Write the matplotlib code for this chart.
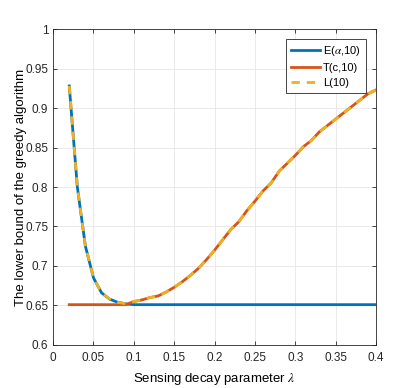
import numpy as np
import matplotlib
matplotlib.use('Agg')
import matplotlib.pyplot as plt

plt.rcParams['font.family'] = ['Liberation Sans', 'DejaVu Sans']
plt.rcParams['mathtext.fontset'] = 'stix'

# sensing decay parameter
lam = [0.02, 0.03, 0.04, 0.05, 0.06, 0.07, 0.08, 0.09, 0.10, 0.11,
       0.12, 0.13, 0.14, 0.15, 0.16, 0.17, 0.18, 0.19, 0.20, 0.21,
       0.22, 0.23, 0.24, 0.25, 0.26, 0.27, 0.28, 0.29, 0.30, 0.31,
       0.32, 0.33, 0.34, 0.35, 0.36, 0.37, 0.38, 0.39, 0.40]

# E(alpha,10)
e_vals = [0.928, 0.800, 0.725, 0.685, 0.666, 0.658, 0.654, 0.652, 0.651, 0.651,
          0.651, 0.651, 0.651, 0.651, 0.651, 0.651, 0.651, 0.651, 0.651, 0.651,
          0.651, 0.651, 0.651, 0.651, 0.651, 0.651, 0.651, 0.651, 0.651, 0.651,
          0.651, 0.651, 0.651, 0.651, 0.651, 0.651, 0.651, 0.651, 0.651]

# T(c,10)
t_vals = [0.651, 0.651, 0.651, 0.651, 0.651, 0.651, 0.651, 0.651, 0.655, 0.657,
          0.660, 0.662, 0.667, 0.673, 0.680, 0.688, 0.697, 0.708, 0.720, 0.733,
          0.746, 0.756, 0.770, 0.782, 0.795, 0.805, 0.820, 0.830, 0.840, 0.851,
          0.859, 0.870, 0.878, 0.886, 0.894, 0.902, 0.910, 0.918, 0.923]

# L(10)
l_vals = [0.928, 0.800, 0.725, 0.685, 0.666, 0.658, 0.654, 0.652, 0.655, 0.657,
          0.660, 0.662, 0.667, 0.673, 0.680, 0.688, 0.697, 0.708, 0.720, 0.733,
          0.746, 0.756, 0.770, 0.782, 0.795, 0.805, 0.820, 0.830, 0.840, 0.851,
          0.859, 0.870, 0.878, 0.886, 0.894, 0.902, 0.910, 0.918, 0.923]

fig = plt.figure(figsize=(4.15, 3.88), dpi=100)
ax = fig.add_axes([0.128, 0.111, 0.778, 0.814])

ax.plot(lam, e_vals, color='#0072BD', lw=2.0, label=r'E($\alpha$,10)')
ax.plot(lam, t_vals, color='#D95319', lw=2.0, label='T(c,10)')
ax.plot(lam, l_vals, color='#EDB120', lw=2.0, ls=(0, (3, 2.5)), label='L(10)')

ax.set_xlim(0, 0.4)
ax.set_ylim(0.6, 1.0)
ax.set_xticks(np.arange(0, 0.401, 0.05))
ax.set_xticklabels(['0', '0.05', '0.1', '0.15', '0.2', '0.25', '0.3', '0.35', '0.4'])
ax.set_yticks(np.arange(0.6, 1.001, 0.05))
ax.set_yticklabels(['0.6', '0.65', '0.7', '0.75', '0.8', '0.85', '0.9', '0.95', '1'])
ax.tick_params(direction='in', top=True, right=True, labelsize=8.5, length=3,
               colors='#262626', width=0.6)
ax.tick_params(axis='x', pad=5)
ax.grid(True, color='#e6e6e6', lw=0.6)
ax.set_axisbelow(True)
for s in ax.spines.values():
    s.set_color('#262626')
    s.set_linewidth(0.6)

ax.set_xlabel(r'Sensing decay parameter $\lambda$', fontsize=9.5, labelpad=5)
ax.set_ylabel('The lower bound of the greedy algorithm', fontsize=9.5)
ax.yaxis.set_label_coords(-0.08, 0.5)

leg = ax.legend(loc='upper right', fontsize=8, fancybox=False, framealpha=1,
                edgecolor='#262626', handlelength=2.6, borderaxespad=0.9,
                borderpad=0.45, labelspacing=0.45, handletextpad=0.3)
leg.get_frame().set_linewidth(0.6)

fig.savefig('out.png', dpi=100)
